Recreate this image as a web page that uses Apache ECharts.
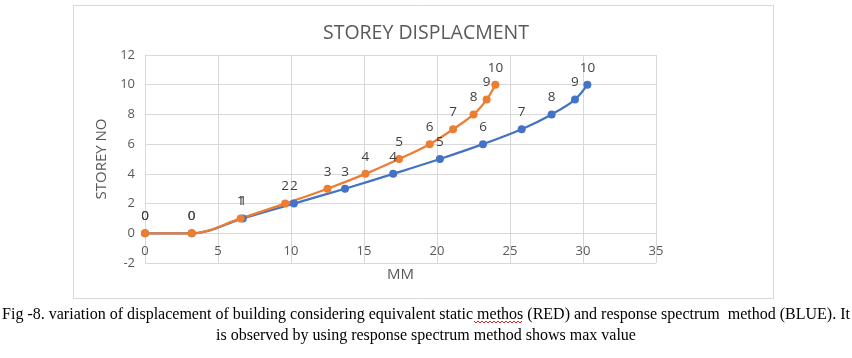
<!DOCTYPE html>
<html>
<head>
<meta charset="utf-8">
<style>
  html, body { margin: 0; padding: 0; background: #ffffff; }
  #chart { width: 852px; height: 358px; }
</style>
<script src="https://cdn.jsdelivr.net/npm/echarts@6/dist/echarts.min.js"></script>
</head>
<body>
<div id="chart"></div>
<script>
// Storey numbers (y values)
const storeys = [0, 0, 1, 2, 3, 4, 5, 6, 7, 8, 9, 10];
// Displacement in mm, response spectrum method (BLUE)
const responseSpectrumMM = [0, 3.2, 6.7, 10.2, 13.7, 17.0, 20.2, 23.15, 25.8, 27.85, 29.45, 30.3];
// Displacement in mm, equivalent static method (RED / orange)
const equivalentStaticMM = [0, 3.2, 6.55, 9.6, 12.5, 15.1, 17.4, 19.5, 21.1, 22.5, 23.4, 24.0];
// Axis ticks
const xTicks = [0, 5, 10, 15, 20, 25, 30, 35];
const yTicks = [-2, 0, 2, 4, 6, 8, 10, 12];

const titleText = 'STOREY DISPLACMENT';
const xName = 'MM';
const yName = 'STOREY NO';
const captionLine1 = 'Fig -8. variation of displacement of building considering equivalent static methos (RED) and response spectrum  method (BLUE). It';
const captionLine2 = 'is observed by using response spectrum method shows max value';

const pairs = (xs, ys) => xs.map((x, i) => [x, ys[i]]);

const chart = echarts.init(document.getElementById('chart'), null, { renderer: 'canvas' });

const FONT = '"Open Sans", sans-serif';
const labelCfg = {
  show: true,
  position: 'top',
  distance: 6,
  color: '#404040',
  fontSize: 13.5,
  fontFamily: FONT,
  formatter: p => String(p.value[1])
};

function makeSeries(name, data, color) {
  return {
    name: name,
    type: 'line',
    data: data,
    smooth: 0.35,
    symbol: 'circle',
    symbolSize: 8,
    showSymbol: true,
    lineStyle: { color: color, width: 2.25 },
    itemStyle: { color: color },
    label: labelCfg,
    emphasis: { disabled: true },
    animation: false
  };
}

// spell-check style wavy underline (decoration only)
const wavy = [];
for (let x = 474, k = 0; x <= 523; x += 2, k++) {
  wavy.push([x, k % 2 === 0 ? 321 : 323]);
}

const option = {
  backgroundColor: '#ffffff',
  animation: false,
  title: {
    text: titleText,
    left: 'center',
    top: 18,
    textStyle: { color: '#595959', fontSize: 19.5, fontWeight: 'normal', fontFamily: FONT }
  },
  grid: { left: 145, right: 196, top: 55, bottom: 95, containLabel: false },
  xAxis: {
    type: 'value',
    min: xTicks[0],
    max: xTicks[xTicks.length - 1],
    interval: 5,
    name: xName,
    nameLocation: 'middle',
    nameGap: 34,
    offset: -30,
    nameTextStyle: { color: '#595959', fontSize: 15, fontFamily: FONT },
    axisLine: { show: true, onZero: false, lineStyle: { color: '#d9d9d9', width: 1 } },
    axisTick: { show: false },
    axisLabel: { color: '#595959', fontSize: 13, fontFamily: FONT, margin: 12 },
    splitLine: { show: true, lineStyle: { color: '#d9d9d9', width: 1 } }
  },
  yAxis: {
    type: 'value',
    min: yTicks[0],
    max: yTicks[yTicks.length - 1],
    interval: 2,
    name: yName,
    nameLocation: 'middle',
    nameGap: 34,
    nameRotate: 90,
    nameTextStyle: { color: '#595959', fontSize: 15, fontFamily: FONT },
    axisLine: { show: true, lineStyle: { color: '#d9d9d9', width: 1 } },
    axisTick: { show: false },
    axisLabel: { color: '#595959', fontSize: 13, fontFamily: FONT, margin: 10 },
    splitLine: { show: true, lineStyle: { color: '#d9d9d9', width: 1 } }
  },
  series: [
    makeSeries('Response spectrum', pairs(responseSpectrumMM, storeys), '#4472C4'),
    makeSeries('Equivalent static', pairs(equivalentStaticMM, storeys), '#ED7D31')
  ],
  graphic: [
    {
      type: 'rect',
      shape: { x: 73.5, y: 5.5, width: 700, height: 293 },
      style: { fill: null, stroke: '#d9d9d9', lineWidth: 1 },
      silent: true,
      z: -1
    },
    {
      type: 'text',
      left: 'center',
      top: 307,
      style: { text: captionLine1, fill: '#000000', font: '16px "Liberation Serif", "Times New Roman", serif' },
      silent: true
    },
    {
      type: 'text',
      left: 'center',
      top: 328,
      style: { text: captionLine2, fill: '#000000', font: '16px "Liberation Serif", "Times New Roman", serif' },
      silent: true
    },
    {
      type: 'polyline',
      shape: { points: wavy },
      style: { stroke: '#e02020', lineWidth: 1, fill: null },
      silent: true
    }
  ]
};

chart.setOption(option);
</script>
</body>
</html>
